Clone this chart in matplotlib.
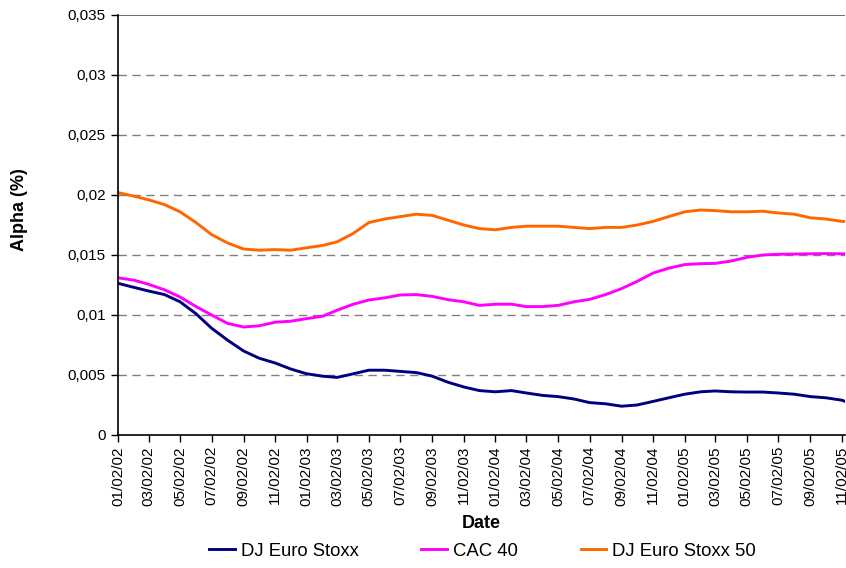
import matplotlib
matplotlib.use("Agg")
import matplotlib.pyplot as plt
import matplotlib.dates as mdates
import matplotlib.ticker as mticker
import pandas as pd

plt.rcParams['font.family'] = ['Liberation Sans', 'DejaVu Sans']

dates = [
    "2002-01-02", "2002-02-02", "2002-03-02", "2002-04-02", "2002-05-02", "2002-06-02",
    "2002-07-02", "2002-08-02", "2002-09-02", "2002-10-02", "2002-11-02", "2002-12-02",
    "2003-01-02", "2003-02-02", "2003-03-02", "2003-04-02", "2003-05-02", "2003-06-02",
    "2003-07-02", "2003-08-02", "2003-09-02", "2003-10-02", "2003-11-02", "2003-12-02",
    "2004-01-02", "2004-02-02", "2004-03-02", "2004-04-02", "2004-05-02", "2004-06-02",
    "2004-07-02", "2004-08-02", "2004-09-02", "2004-10-02", "2004-11-02", "2004-12-02",
    "2005-01-02", "2005-02-02", "2005-03-02", "2005-04-02", "2005-05-02", "2005-06-02",
    "2005-07-02", "2005-08-02", "2005-09-02", "2005-10-02", "2005-11-02", "2005-11-08",
]

dj_euro_stoxx = [
    0.01264, 0.0123, 0.0120, 0.0117, 0.0111, 0.0101,
    0.0089, 0.0079, 0.0070, 0.0064, 0.0060, 0.0055,
    0.0051, 0.0049, 0.0048, 0.0051, 0.0054, 0.0054,
    0.0053, 0.0052, 0.0049, 0.0044, 0.0040, 0.0037,
    0.0036, 0.0037, 0.0035, 0.0033, 0.0032, 0.0030,
    0.0027, 0.0026, 0.0024, 0.0025, 0.0028, 0.0031,
    0.0034, 0.0036, 0.00367, 0.0036, 0.00358, 0.00358,
    0.0035, 0.0034, 0.0032, 0.0031, 0.0029, 0.0028,
]

cac_40 = [
    0.0131, 0.0129, 0.01256, 0.0121, 0.0115, 0.0107,
    0.0100, 0.0093, 0.0090, 0.0091, 0.0094, 0.00948,
    0.0097, 0.0099, 0.0104, 0.0109, 0.01125, 0.01143,
    0.01167, 0.0117, 0.01155, 0.01128, 0.0111, 0.0108,
    0.0109, 0.0109, 0.0107, 0.0107, 0.0108, 0.0111,
    0.0113, 0.0117, 0.0122, 0.0128, 0.0135, 0.0139,
    0.0142, 0.01428, 0.0143, 0.0145, 0.0148, 0.0150,
    0.01506, 0.01508, 0.0151, 0.01512, 0.0151, 0.0151,
]

dj_euro_stoxx_50 = [
    0.0202, 0.0199, 0.0196, 0.0192, 0.0186, 0.0177,
    0.0167, 0.0160, 0.0155, 0.0154, 0.01545, 0.0154,
    0.0156, 0.0158, 0.0161, 0.0168, 0.0177, 0.0180,
    0.0182, 0.0184, 0.0183, 0.0179, 0.0175, 0.0172,
    0.0171, 0.0173, 0.0174, 0.0174, 0.0174, 0.0173,
    0.0172, 0.0173, 0.0173, 0.0175, 0.0178, 0.0182,
    0.0186, 0.01875, 0.0187, 0.0186, 0.0186, 0.01865,
    0.0185, 0.0184, 0.0181, 0.0180, 0.0178, 0.0178,
]

y_ticks = [0, 0.005, 0.01, 0.015, 0.02, 0.025, 0.03, 0.035]

x = pd.to_datetime(dates)

fig = plt.figure(figsize=(8.46, 5.68), dpi=100)
ax = fig.add_axes([118/846, 1 - 435/568, (845 - 118)/846, (435 - 15)/568])

ax.plot(x, dj_euro_stoxx, color='#000080', lw=2.1, label='DJ Euro Stoxx')
ax.plot(x, cac_40, color='#FF00FF', lw=2.1, label='CAC 40')
ax.plot(x, dj_euro_stoxx_50, color='#FF6600', lw=2.1, label='DJ Euro Stoxx 50')

ax.set_xlim(x[0], x[-1])
ax.set_ylim(0, 0.035)
ax.set_yticks(y_ticks)
ax.yaxis.set_major_formatter(mticker.FuncFormatter(
    lambda v, p: '0' if v == 0 else ('%g' % round(v, 4)).replace('.', ',')))

for v in y_ticks[1:-1]:
    ax.axhline(v, color='#808080', lw=1.0, ls=(0, (6, 4)), zorder=0)
ax.axhline(y_ticks[-1], color='#606060', lw=1.3, zorder=0)

ax.xaxis.set_major_locator(mdates.MonthLocator(bymonth=[1, 3, 5, 7, 9, 11], bymonthday=2))
ax.xaxis.set_major_formatter(mdates.DateFormatter('%m/%d/%y'))
plt.setp(ax.get_xticklabels(), rotation=90, ha='center', va='top')

ax.tick_params(axis='both', labelsize=11, direction='out', length=5, width=1, color='black')
ax.tick_params(axis='x', pad=3)
ax.tick_params(axis='y', pad=4)

for s in ['top', 'right']:
    ax.spines[s].set_visible(False)
for s in ['left', 'bottom']:
    ax.spines[s].set_color('black')
    ax.spines[s].set_linewidth(1.2)

fig.text(20/846, 1 - 210/568, 'Alpha (%)', rotation=90, ha='center', va='center',
         fontsize=13, fontweight='bold')
fig.text(481/846, 1 - 523/568, 'Date', ha='center', va='center',
         fontsize=13, fontweight='bold')

fig.legend(loc='center', bbox_to_anchor=(482.5/846, 1 - 551/568), ncol=3, frameon=False,
           fontsize=13.3, handlelength=1.4, handletextpad=0.3, columnspacing=3.4)

fig.savefig('out.png', dpi=100)
